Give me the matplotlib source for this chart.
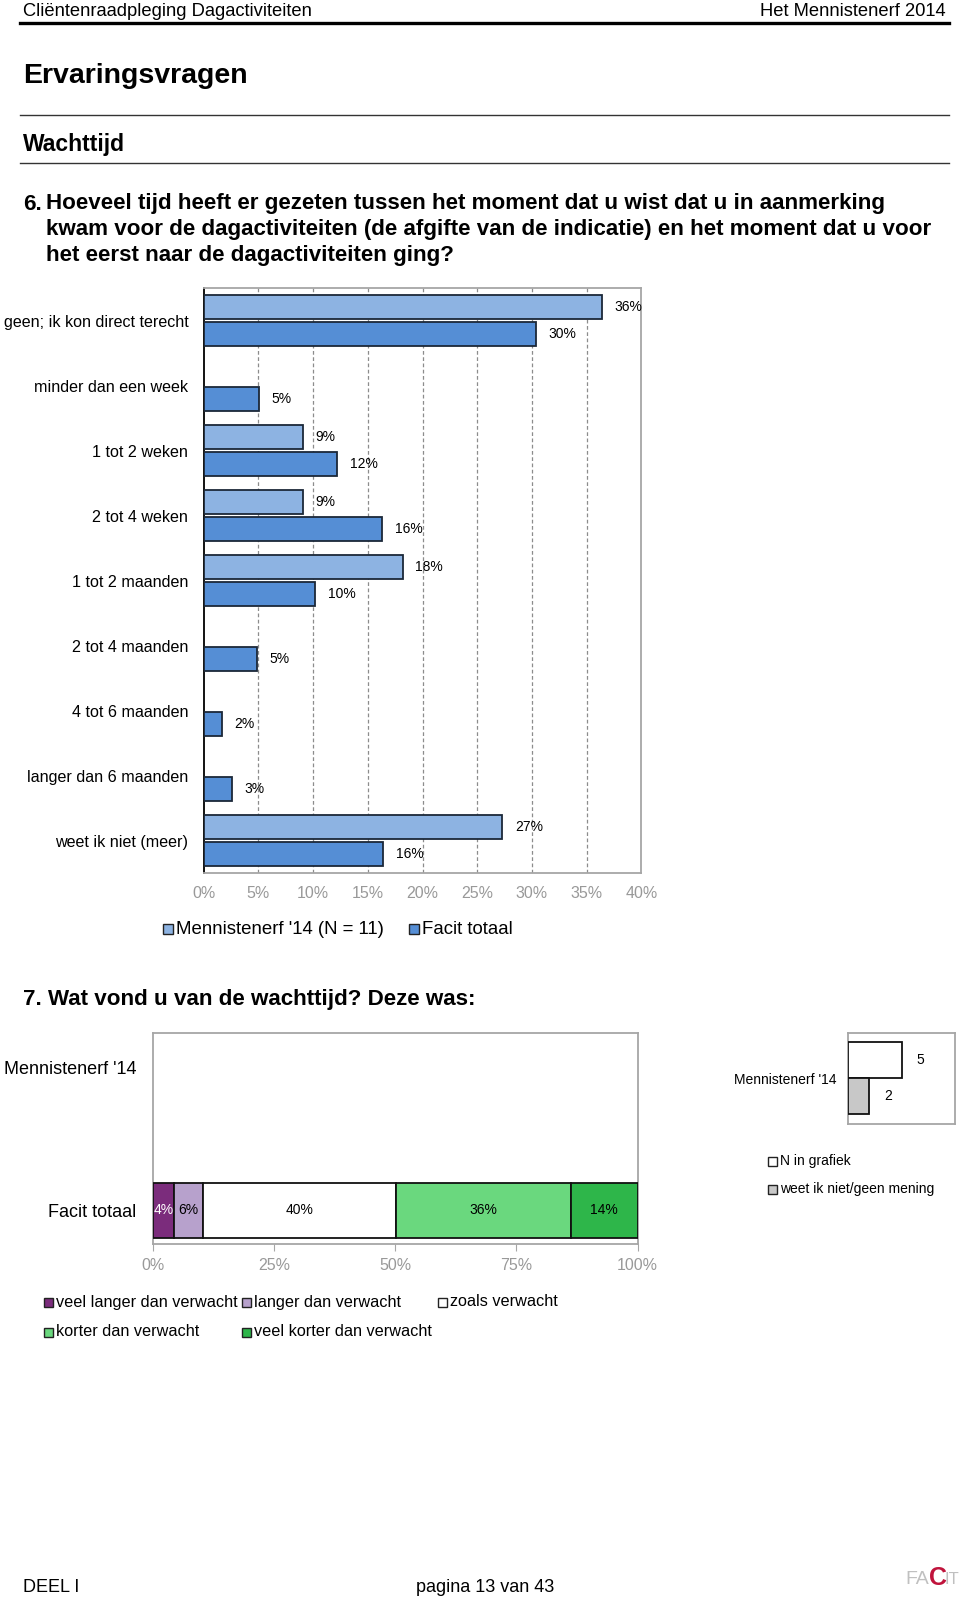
import matplotlib
matplotlib.use('Agg')
import matplotlib.pyplot as plt
from matplotlib.patches import Rectangle
from matplotlib.lines import Line2D
import numpy as np

plt.rcParams['font.family'] = ['Liberation Sans', 'DejaVu Sans']

# --- data ---
wait_cats = ['geen; ik kon direct terecht', 'minder dan een week', '1 tot 2 weken',
             '2 tot 4 weken', '1 tot 2 maanden', '2 tot 4 maanden', '4 tot 6 maanden',
             'langer dan 6 maanden', 'weet ik niet (meer)']
menn_wait = [36.4, 0, 9.1, 9.1, 18.2, 0, 0, 0, 27.3]
facit_wait = [30.4, 5.1, 12.2, 16.3, 10.2, 4.9, 1.7, 2.6, 16.4]
wait_ticks = [0, 5, 10, 15, 20, 25, 30, 35, 40]

opinion_rows = ["Mennistenerf '14", 'Facit totaal']
opinion_labels = ['veel langer dan verwacht', 'langer dan verwacht', 'zoals verwacht',
                  'korter dan verwacht', 'veel korter dan verwacht']
facit_opinion = [4.4, 5.9, 39.9, 36.1, 13.7]
opinion_ticks = [0, 25, 50, 75, 100]

n_grafiek = 5
n_weet_niet = 2

W, H = 960, 1597
fig = plt.figure(figsize=(W / 100, H / 100), dpi=100)


def axes_px(left, top, right, bottom):
    return fig.add_axes([left / W, 1 - bottom / H, (right - left) / W, (bottom - top) / H])


def text_px(x, y, s, **kw):
    return fig.text(x / W, 1 - y / H, s, **kw)


def hline_px(x0, x1, y, lw, color):
    fig.add_artist(Line2D([x0 / W, x1 / W], [1 - y / H, 1 - y / H], lw=lw, color=color))


def legend_px(x, y, color, label, size, s=9):
    fig.add_artist(Rectangle((x / W, 1 - (y + s / 2) / H), s / W, s / H,
                             transform=fig.transFigure, facecolor=color,
                             edgecolor='#222222', lw=1))
    text_px(x + s + 3, y, label, fontsize=size, va='center', ha='left')


# --- page header ---
text_px(23, 11, 'Cliëntenraadpleging Dagactiviteiten', fontsize=13.2, va='center')
text_px(946, 11, 'Het Mennistenerf 2014', fontsize=13.2, va='center', ha='right')
hline_px(20, 949, 23, 2.4, 'black')
text_px(23, 76, 'Ervaringsvragen', fontsize=20.5, fontweight='bold', va='center')
hline_px(20, 949, 115, 1.0, '#333333')
text_px(23, 145, 'Wachttijd', fontsize=16.5, fontweight='bold', va='center')
hline_px(20, 949, 163, 1.0, '#333333')

q6 = ['Hoeveel tijd heeft er gezeten tussen het moment dat u wist dat u in aanmerking',
      'kwam voor de dagactiviteiten (de afgifte van de indicatie) en het moment dat u voor',
      'het eerst naar de dagactiviteiten ging?']
text_px(23, 204, '6.', fontsize=16.1, fontweight='bold', va='center')
for i, line in enumerate(q6):
    text_px(46, 204 + i * 25.5, line, fontsize=16.1, fontweight='bold', va='center')

# --- chart 1: wachttijd ---
ax = axes_px(203.6, 288, 641.4, 873)
y = np.arange(len(wait_cats))
light = '#8DB3E2'
dark = '#558ED5'
edge = '#1B2838'
for i in y:
    if menn_wait[i] > 0:
        ax.barh(i - 0.21, menn_wait[i], height=0.37, color=light, edgecolor=edge, lw=1.3, zorder=3)
        ax.annotate('%d%%' % round(menn_wait[i]), (menn_wait[i], i - 0.21), xytext=(9, 0),
                    textcoords='offset points', va='center', ha='left', fontsize=10, zorder=4)
    if facit_wait[i] > 0:
        ax.barh(i + 0.21, facit_wait[i], height=0.37, color=dark, edgecolor=edge, lw=1.3, zorder=3)
        ax.annotate('%d%%' % round(facit_wait[i]), (facit_wait[i], i + 0.21), xytext=(9, 0),
                    textcoords='offset points', va='center', ha='left', fontsize=10, zorder=4)
ax.set_xlim(0, 40)
ax.set_ylim(len(wait_cats) - 0.5, -0.5)
ax.set_yticks(y)
ax.set_yticklabels(wait_cats, fontsize=11.6)
ax.set_xticks(wait_ticks)
ax.set_xticklabels(['%d%%' % t for t in wait_ticks], fontsize=11.5, color='#999999')
ax.tick_params(axis='y', length=0, pad=11)
ax.tick_params(axis='x', length=0, pad=9)
for t in wait_ticks[1:-1]:
    ax.axvline(t, color='#8c8c8c', lw=0.9, ls=(0, (3, 2)), zorder=1)
for s in ['top', 'right', 'bottom']:
    ax.spines[s].set_color('#a6a6a6')
    ax.spines[s].set_linewidth(1.3)
ax.spines['left'].set_color('black')
ax.spines['left'].set_linewidth(1.3)

legend_px(163, 929, light, "Mennistenerf '14 (N = 11)", 13.4, s=10)
legend_px(409, 929, dark, 'Facit totaal', 13.4, s=10)

# --- chart 2: oordeel wachttijd ---
text_px(23, 999, '7. Wat vond u van de wachttijd? Deze was:', fontsize=16.1, fontweight='bold', va='center')

ax2 = axes_px(152.7, 1033, 637.5, 1244)
op_colors = ['#7B2C7C', '#B7A1CC', '#FFFFFF', '#6AD87E', '#2EB64A']
op_text = ['white', 'black', 'black', 'black', 'black']
left = 0
for v, c, tc in zip(facit_opinion, op_colors, op_text):
    ax2.barh(1, v, left=left, height=0.386, color=c, edgecolor='#111111', lw=1.3, zorder=3)
    ax2.text(left + v / 2, 1, '%d%%' % round(v), ha='center', va='center', fontsize=10, color=tc, zorder=4)
    left += v
ax2.set_xlim(0, 100)
ax2.set_ylim(1.238, -0.242)
ax2.set_yticks([0, 1])
ax2.set_yticklabels(opinion_rows, fontsize=13)
ax2.tick_params(axis='y', length=0, pad=12)
ax2.set_xticks(opinion_ticks)
ax2.set_xticklabels(['%d%%' % t for t in opinion_ticks], fontsize=11.5, color='#999999')
ax2.tick_params(axis='x', length=5, color='#a6a6a6', pad=5)
for s in ax2.spines.values():
    s.set_color('#a6a6a6')
    s.set_linewidth(1.3)

legend_px(44, 1302, op_colors[0], opinion_labels[0], 11.7)
legend_px(242, 1302, op_colors[1], opinion_labels[1], 11.7)
legend_px(438, 1302, op_colors[2], opinion_labels[2], 11.7)
legend_px(44, 1332, op_colors[3], opinion_labels[3], 11.7)
legend_px(242, 1332, op_colors[4], opinion_labels[4], 11.7)

# --- small N chart ---
ax3 = axes_px(848, 1033, 955, 1123.5)
ax3.barh(-0.2, n_grafiek, height=0.4, color='white', edgecolor='#111111', lw=1.3, zorder=3)
ax3.barh(0.2, n_weet_niet, height=0.4, color='#C8C8C8', edgecolor='#111111', lw=1.3, zorder=3)
ax3.annotate(str(n_grafiek), (n_grafiek, -0.2), xytext=(11, 0), textcoords='offset points',
             va='center', ha='left', fontsize=10)
ax3.annotate(str(n_weet_niet), (n_weet_niet, 0.2), xytext=(11, 0), textcoords='offset points',
             va='center', ha='left', fontsize=10)
ax3.set_xlim(0, 10)
ax3.set_ylim(0.5, -0.5)
ax3.set_xticks([])
ax3.set_yticks([0])
ax3.set_yticklabels(["Mennistenerf '14"], fontsize=10)
ax3.tick_params(axis='y', length=0, pad=8)
for s in ax3.spines.values():
    s.set_color('#a6a6a6')
    s.set_linewidth(1.3)

legend_px(768, 1161, 'white', 'N in grafiek', 10)
legend_px(768, 1189, '#C8C8C8', 'weet ik niet/geen mening', 10)

# --- footer ---
text_px(23, 1587, 'DEEL I', fontsize=13, va='center')
text_px(485, 1587, 'pagina 13 van 43', fontsize=13, va='center', ha='center')
# logo
text_px(905, 1579, 'FA', fontsize=14, va='center', color='#c0c0c0')
text_px(929, 1578, 'C', fontsize=18, fontweight='bold', va='center', color='#C0143C')
text_px(944, 1579, 'IT', fontsize=12, va='center', color='#c0c0c0')

fig.savefig('out.png', dpi=100)
